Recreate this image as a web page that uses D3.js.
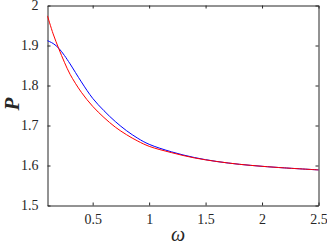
<!DOCTYPE html>
<html>
<head>
<meta charset="utf-8">
<script src="https://cdn.jsdelivr.net/npm/d3@7"></script>
<style>
  body { margin: 0; background: #fff; }
  svg { display: block; }
</style>
</head>
<body>
<div id="chart"></div>
<script>
// omega grid and the two P curves
var omega = [0.1, 0.15, 0.2, 0.25, 0.3, 0.4, 0.5, 0.6, 0.7, 0.8, 0.9, 1.0, 1.2, 1.4, 1.6, 1.8, 2.0, 2.2, 2.5];
var pRed  = [1.974, 1.929, 1.892, 1.858, 1.828, 1.783, 1.748, 1.720, 1.696, 1.677, 1.661, 1.648, 1.632, 1.619, 1.610, 1.603, 1.598, 1.594, 1.589];
var pBlue = [1.912, 1.905, 1.893, 1.875, 1.854, 1.809, 1.768, 1.737, 1.710, 1.687, 1.668, 1.653, 1.634, 1.620, 1.610, 1.603, 1.598, 1.594, 1.589];

var xTicks = [0.5, 1, 1.5, 2, 2.5];
var yTicks = [1.5, 1.6, 1.7, 1.8, 1.9, 2];

var width = 327, height = 246;
var plotLeft = 47.5, plotRight = 318.5, plotTop = 5.5, plotBottom = 205.5;

var svg = d3.select("#chart").append("svg")
    .attr("width", width)
    .attr("height", height);

var x = d3.scaleLinear().domain([0.1, 2.5]).range([plotLeft, plotRight]);
var y = d3.scaleLinear().domain([1.5, 2]).range([plotBottom, plotTop]);

var axisColor = "#262626";
var serif = "Liberation Serif, DejaVu Serif, serif";

// box with inward ticks on all four sides
svg.append("g")
    .attr("transform", "translate(0," + plotBottom + ")")
    .call(d3.axisBottom(x).tickValues(xTicks).tickFormat(d3.format("")).tickSizeInner(-3).tickSizeOuter(0).tickPadding(9));
svg.append("g")
    .attr("transform", "translate(0," + plotTop + ")")
    .call(d3.axisTop(x).tickValues(xTicks).tickFormat("").tickSizeInner(-3).tickSizeOuter(0));
svg.append("g")
    .attr("transform", "translate(" + plotLeft + ",0)")
    .call(d3.axisLeft(y).tickValues(yTicks).tickFormat(d3.format("")).tickSizeInner(-3).tickSizeOuter(0).tickPadding(9));
svg.append("g")
    .attr("transform", "translate(" + plotRight + ",0)")
    .call(d3.axisRight(y).tickValues(yTicks).tickFormat("").tickSizeInner(-3).tickSizeOuter(0));

svg.selectAll(".domain, .tick line")
    .attr("stroke", axisColor)
    .attr("stroke-width", 1);

svg.selectAll(".tick text")
    .attr("font-family", serif)
    .attr("font-size", "14px")
    .attr("fill", axisColor);

var line = d3.line()
    .x(function (d) { return x(d[0]); })
    .y(function (d) { return y(d[1]); })
    .curve(d3.curveCatmullRom.alpha(0.5));

svg.append("path")
    .datum(omega.map(function (w, i) { return [w, pBlue[i]]; }))
    .attr("d", line)
    .attr("fill", "none")
    .attr("stroke", "#0000ff")
    .attr("stroke-width", 1);

svg.append("path")
    .datum(omega.map(function (w, i) { return [w, pRed[i]]; }))
    .attr("d", line)
    .attr("fill", "none")
    .attr("stroke", "#ff0000")
    .attr("stroke-width", 1);

// axis labels
svg.append("text")
    .attr("x", 178)
    .attr("y", 241)
    .attr("text-anchor", "middle")
    .attr("font-family", serif)
    .attr("font-style", "italic")
    .attr("font-size", "20px")
    .attr("fill", axisColor)
    .text("ω");

svg.append("text")
    .attr("transform", "translate(19,104) rotate(-90)")
    .attr("text-anchor", "middle")
    .attr("font-family", serif)
    .attr("font-style", "italic")
    .attr("font-weight", "bold")
    .attr("font-size", "21px")
    .attr("fill", axisColor)
    .text("P");
</script>
</body>
</html>
